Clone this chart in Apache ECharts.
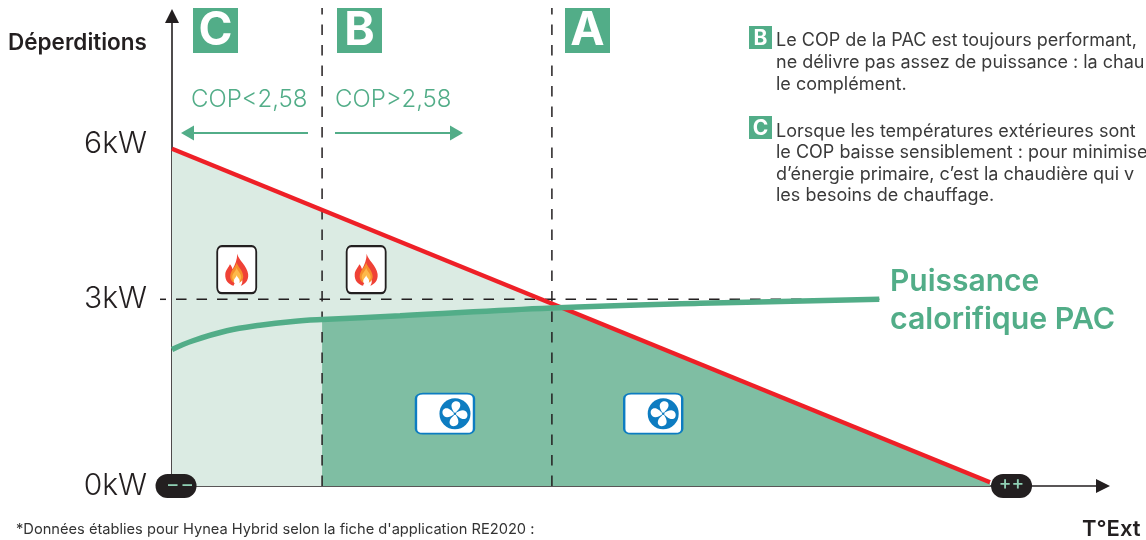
<!DOCTYPE html>
<html><head><meta charset="utf-8">
<style>html,body{margin:0;padding:0;background:#fff;overflow:hidden}#c{width:1146px;height:540px}</style>
<script src="https://cdn.jsdelivr.net/npm/echarts@6/dist/echarts.min.js"></script>
</head><body><div id="c"></div>
<script>
// Temperature axis runs in arbitrary units (the source chart has no numbers on it)
const xMax = 99.25, yMax = 7.54;
const yTickValues = [0, 3, 5.49];
const yTickLabels = ['0kW', '3kW', '6kW'];
const deperditions = [[0, 5.41], [87.2, 0.06]];
const puissancePAC = [[0, 2.19], [2.24, 2.33], [5.86, 2.49], [9.38, 2.58], [12.9, 2.64], [16, 2.67], [24.31, 2.73], [40.5, 2.856], [56.29, 2.93], [75.4, 2.995]];
const chaudiereZone = [[0, 5.41], [16, 4.43], [41.55, 2.861]];
const pacZone = [[16, 2.67], [24.31, 2.73], [40.5, 2.856], [41.55, 2.861], [87.2, 0.06]];
const zoneBoundaryBC = [[16, 0], [16, 7.67]];
const zoneBoundaryAB = [[40.5, 0], [40.5, 7.67]];
const seuil3kW = [[0.43, 2.995], [75.4, 2.995]];
const flamePoints = [[6.9, 3.47], [20.7, 3.47]];
const fanPoints = [[29.1, 1.16], [51.3, 1.16]];
const coldPill = [[0.43, 0]];
const warmPill = [[89.5, 0]];
const noteB = ['Le COP de la PAC est toujours performant,', 'ne délivre pas assez de puissance : la chau', 'le complément.'];
const noteC = ['Lorsque les températures extérieures sont', 'le COP baisse sensiblement : pour minimiser', 'd’énergie primaire, c’est la chaudière qui v', 'les besoins de chauffage.'];

const GREEN = '#52ad88', LIGHT = '#dbebe3', MID = '#7fbea3', RED = '#ee2027', INK = '#231f20', BLUE = '#0d7cc1';
const FONT = 'Inter, "Noto Sans", sans-serif';
const BOX = 'path://M12 0H88C95 0 100 5 100 12V88C100 95 95 100 88 100H12C5 100 0 95 0 88V12C0 5 5 0 12 0Z';
const PILL = 'path://M12 0H29A12 12 0 0 1 29 24H12A12 12 0 0 1 12 0Z';
const FLAME = 'path://M52 0C56 26 90 48 94 84C97 112 80 128 66 132C74 120 74 104 64 94C60 112 44 112 38 132C20 128 4 112 6 84C8 66 18 60 24 44C30 52 32 58 34 64C44 46 52 24 52 0Z';
const FLAME2 = 'path://M50 0C54 26 86 50 86 84C86 108 68 124 50 124C32 124 14 108 14 84C14 50 46 26 50 0Z';
const FAN = 'path://M50 50C38 34 30 14 48 6C66 0 78 18 62 36C58 40 54 44 50 50ZM50 50C66 38 86 30 94 48C100 66 82 78 64 62C60 58 56 54 50 50ZM50 50C62 66 70 86 52 94C34 100 22 82 38 64C42 60 46 56 50 50ZM50 50C34 62 14 70 6 52C0 34 18 22 36 38C40 42 44 46 50 50Z';

const icon = (data, symbol, size, color, extra) => Object.assign({
  type: 'scatter', data, symbol, symbolSize: size, clip: false, silent: true,
  itemStyle: {color, opacity: 1}, z: 6
}, extra || {});
const noLine = {width: 0, opacity: 0};
const dashed = data => ({type: 'line', data, symbol: 'none', silent: true, clip: false, z: 3,
  lineStyle: {color: INK, width: 1.5, type: [10.5, 10]}});
const pill = (data, text, offset) => icon(data, PILL, [41, 24], INK, {z: 11, label: {show: true, position: 'inside',
  formatter: text, color: '#8fcfb3', fontSize: 19, fontFamily: FONT, fontWeight: 500, offset}});

const txt = (x, y, text, size, fill, weight, align) => ({type: 'text', x, y, z: 20, silent: true,
  style: {text, fontSize: size, fontFamily: FONT, fontWeight: weight || 400, fill: fill || INK,
    align: align || 'left', verticalAlign: 'middle'}});
const badge = (x, y, s, letter, fs) => [
  {type: 'rect', shape: {x, y, width: s, height: s}, style: {fill: GREEN}, z: 19, silent: true},
  txt(x + s / 2, y + s / 2 + 1, letter, fs, '#fff', 700, 'center')];
const noteLines = (lines, ys) => lines.map((t, i) => txt(776, ys[i], t, 18, '#3a3a3a', 400));
const arrow = (x1, x2, tipX, baseX) => [
  {type: 'line', shape: {x1, y1: 133, x2, y2: 133}, style: {stroke: GREEN, lineWidth: 2}, z: 19, silent: true},
  {type: 'polygon', shape: {points: [[tipX, 133], [baseX, 125.5], [baseX, 140.5]]}, style: {fill: GREEN}, z: 19, silent: true}];

const chart = echarts.init(document.getElementById('c'), null, {renderer: 'canvas'});
chart.setOption({
  animation: false,
  backgroundColor: '#fff',
  grid: {left: 172, right: 43, top: 16, bottom: 54},
  xAxis: {type: 'value', min: 0, max: xMax, splitLine: {show: false}, axisTick: {show: false}, axisLabel: {show: false},
    axisLine: {show: true, symbol: ['none', 'triangle'], symbolSize: [14, 14], lineStyle: {color: INK, width: 1.6}}},
  yAxis: {type: 'value', min: 0, max: yMax, splitLine: {show: false}, axisTick: {show: false},
    axisLine: {show: true, symbol: ['none', 'triangle'], symbolSize: [14, 14], lineStyle: {color: INK, width: 1.6}},
    axisLabel: {customValues: yTickValues, margin: 25, fontSize: 30, fontFamily: FONT, fontWeight: 300, color: INK,
      padding: [4, 0, 0, 0], formatter: v => yTickLabels[yTickValues.indexOf(v)]}},
  series: [
    {name: 'Chaudière', type: 'line', data: chaudiereZone, symbol: 'none', lineStyle: noLine, areaStyle: {color: LIGHT, opacity: 1}, z: 1, silent: true},
    {name: 'PAC', type: 'line', data: pacZone, symbol: 'none', lineStyle: noLine, areaStyle: {color: MID, opacity: 1}, z: 2, silent: true},
    dashed(zoneBoundaryBC), dashed(zoneBoundaryAB), dashed(seuil3kW),
    {name: 'Déperditions', type: 'line', data: deperditions, symbol: 'none', z: 4, silent: true, lineStyle: {color: RED, width: 4.5}},
    {name: 'Puissance calorifique PAC', type: 'line', data: puissancePAC, smooth: 0.4, symbol: 'none', z: 5, silent: true, lineStyle: {color: GREEN, width: 5.5, cap: 'butt'}},
    icon(flamePoints, BOX, [39, 47], '#fff', {itemStyle: {color: '#fff', borderColor: INK, borderWidth: 2, opacity: 1}}),
    icon(flamePoints, FLAME, [23, 32], '#ef4136', {z: 7}),
    icon(flamePoints, FLAME2, [13, 21], '#f78f2b', {z: 8, symbolOffset: [0, 3]}),
    icon(flamePoints, FLAME2, [9, 14], '#fdb94a', {z: 9, symbolOffset: [0, 5]}),
    icon(flamePoints, FLAME2, [6, 9], '#ffffff', {z: 10, symbolOffset: [0, 10]}),
    icon(fanPoints, BOX, [58, 40], '#fff', {itemStyle: {color: '#fff', borderColor: BLUE, borderWidth: 2, opacity: 1}}),
    icon(fanPoints, 'circle', 31, BLUE, {z: 7, symbolOffset: [10, 0]}),
    icon(fanPoints, FAN, 25, '#fff', {z: 8, symbolOffset: [10, 0]}),
    icon(fanPoints, 'circle', 2.5, BLUE, {z: 9, symbolOffset: [10, 0]}),
    pill(coldPill, '– –', [4, -1]),
    pill(warmPill, '++', [0, -3])
  ],
  graphic: {elements: [].concat(
    {type: 'line', shape: {x1: 160, y1: 299.3, x2: 166, y2: 299.3}, style: {stroke: INK, lineWidth: 1.5}, z: 19, silent: true},
    txt(8, 43, 'Déperditions', 22.5, INK, 600),
    txt(1082, 529, 'T°Ext', 22, INK, 600),
    txt(16, 530, '*Données établies pour Hynea Hybrid selon la fiche d\'application RE2020 :', 14.65, '#333', 400),
    txt(191, 100, 'COP<2,58', 24, GREEN, 300),
    txt(335, 100, 'COP>2,58', 24, GREEN, 300),
    txt(890, 282, 'Puissance', 30, GREEN, 600),
    txt(890, 320, 'calorifique PAC', 30.3, GREEN, 600),
    badge(193, 8, 45, 'C', 46), badge(337, 8, 45, 'B', 46), badge(565, 8, 45, 'A', 46),
    badge(749, 26, 23, 'B', 21), badge(749, 116, 23, 'C', 21),
    noteLines(noteB, [41, 63, 85]), noteLines(noteC, [132, 153, 175, 196]),
    arrow(194, 308, 181, 194), arrow(335, 450, 463, 450)
  )}
});
</script></body></html>
